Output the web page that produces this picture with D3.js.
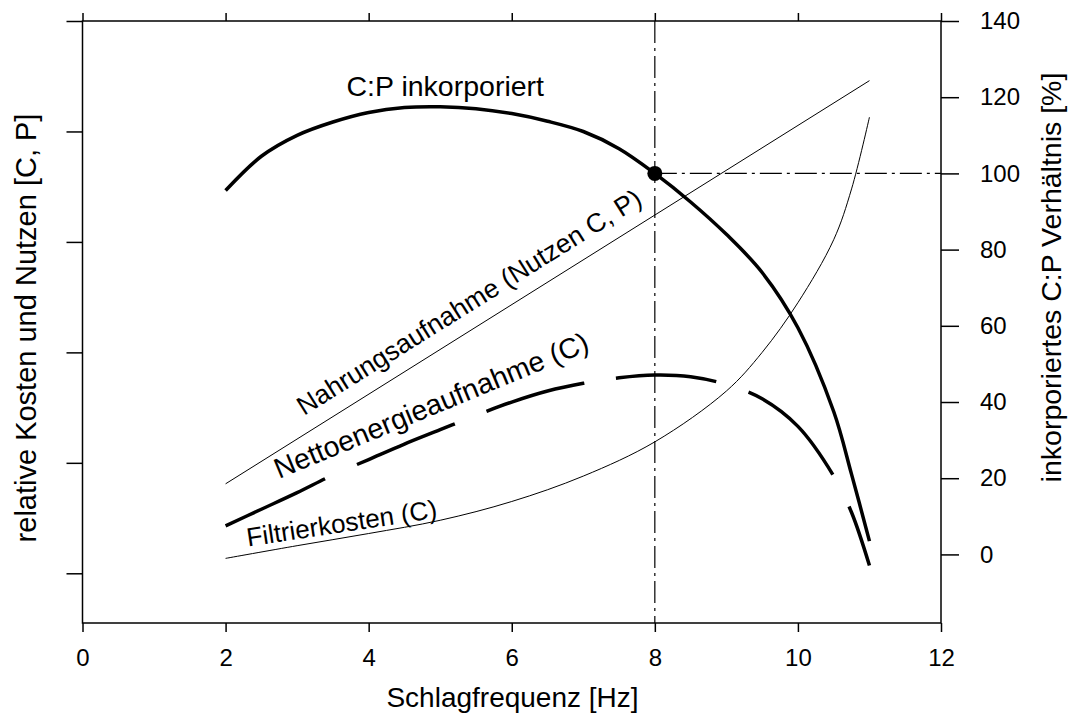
<!DOCTYPE html>
<html><head><meta charset="utf-8">
<script src="https://cdn.jsdelivr.net/npm/d3@7"></script>
<style>
body{margin:0;background:#fff;}
text{font-family:"Liberation Sans",Arial,Helvetica,sans-serif;fill:#000;}
</style></head>
<body><svg id="c" width="1068" height="724"></svg>
<script>
// ---- data ----
const xTicks = [0, 2, 4, 6, 8, 10, 12];
const rightTicks = [0, 20, 40, 60, 80, 100, 120, 140];
const leftTicks = [0, 1, 2, 3, 4, 5];

// C:P inkorporiert [%] (right axis)
const cpX = [2, 2.5, 3, 3.5, 4, 4.5, 5, 5.5, 6, 6.5, 7, 7.5, 8, 8.5, 9, 9.5, 10, 10.5, 10.75, 11];
const cpY = [95.5, 104.5, 110, 113.5, 116, 117.3, 117.5, 117, 115.7, 113.7, 111, 106.5, 100, 92.5, 84, 74, 59.5, 37.5, 21, 3.5];

// Nahrungsaufnahme (Nutzen C, P) (left axis, relative)
const foodX = [2, 11];
const foodY = [0.81, 4.46];

// Filtrierkosten (C)
const costX = [2, 3, 4, 5, 6, 7, 8, 9, 9.5, 10, 10.5, 10.75, 11];
const costY = [0.135, 0.25, 0.36, 0.48, 0.65, 0.88, 1.19, 1.65, 2.0, 2.45, 3.02, 3.48, 4.13];

// Nettoenergieaufnahme (C)
const netX = [2, 2.5, 3, 3.5, 4, 4.5, 5, 5.5, 6, 6.5, 7, 7.5, 8, 8.5, 9, 9.5, 10, 10.5, 10.75, 11];
const netY = [0.43, 0.58, 0.73, 0.89, 1.03, 1.17, 1.30, 1.43, 1.55, 1.65, 1.72, 1.77, 1.795, 1.78, 1.71, 1.58, 1.33, 0.88, 0.55, 0.07];

// optimum marker
const optX = 8, optY = 100;

// ---- layout ----
const svg = d3.select("#c");
const L = 82.5, R = 941, T = 21, B = 623;
const x = d3.scaleLinear().domain([0, 12]).range([L, R]);
const yL = d3.scaleLinear().domain([-0.45, 5]).range([B, T]);
const yR = d3.scaleLinear().domain([-18, 140]).range([B, T]);

// axes
const ax = svg.append("g");
const gb = ax.append("g").attr("transform", `translate(0,${B})`)
  .call(d3.axisBottom(x).tickValues(xTicks).tickSize(9).tickSizeOuter(0).tickPadding(17));
const gt = ax.append("g").attr("transform", `translate(0,${T})`)
  .call(d3.axisTop(x).tickValues(xTicks).tickSize(8).tickSizeOuter(0).tickFormat(""));
const gl = ax.append("g").attr("transform", `translate(${L},0)`)
  .call(d3.axisLeft(yL).tickValues(leftTicks).tickSize(16).tickSizeOuter(0).tickFormat(""));
const gr = ax.append("g").attr("transform", `translate(${R},0)`)
  .call(d3.axisRight(yR).tickValues(rightTicks).tickSize(18).tickSizeOuter(0).tickPadding(21));
[gb, gt, gl, gr].forEach(g => {
  g.selectAll(".domain").remove();
  g.selectAll("line").attr("stroke", "#000").attr("stroke-width", 1.5);
  g.selectAll("text").style("font-size", "24px").attr("fill", "#000");
});
gb.selectAll("text").attr("dy", "0.71em");
gr.selectAll("text").attr("text-anchor", "start");

svg.append("rect").attr("x", L).attr("y", T).attr("width", R - L).attr("height", B - T)
  .attr("fill", "none").attr("stroke", "#000").attr("stroke-width", 1.5);

// reference dash-dot lines
svg.append("line").attr("x1", x(optX)).attr("x2", x(optX)).attr("y1", T).attr("y2", B)
  .attr("stroke", "#000").attr("stroke-width", 1.2).attr("stroke-dasharray", "22,5,3,5");
svg.append("line").attr("x1", x(optX)).attr("x2", R).attr("y1", yR(optY)).attr("y2", yR(optY))
  .attr("stroke", "#000").attr("stroke-width", 1.2).attr("stroke-dasharray", "22,5,3,5");

// curves
const lineL = d3.line().x(d => x(d[0])).y(d => yL(d[1])).curve(d3.curveCatmullRom.alpha(0.5));
const lineR = d3.line().x(d => x(d[0])).y(d => yR(d[1])).curve(d3.curveCatmullRom.alpha(0.5));

svg.append("path").datum(foodX.map((v, i) => [v, foodY[i]])).attr("d", lineL)
  .attr("fill", "none").attr("stroke", "#000").attr("stroke-width", 1);
svg.append("path").datum(costX.map((v, i) => [v, costY[i]])).attr("d", lineL)
  .attr("fill", "none").attr("stroke", "#000").attr("stroke-width", 1);
svg.append("path").datum(netX.map((v, i) => [v, netY[i]])).attr("d", lineL)
  .attr("fill", "none").attr("stroke", "#000").attr("stroke-width", 3.5)
  .attr("stroke-dasharray", "110,35,106,34,102,32,101,34,120,36,200");
svg.append("path").datum(cpX.map((v, i) => [v, cpY[i]])).attr("d", lineR)
  .attr("fill", "none").attr("stroke", "#000").attr("stroke-width", 3.5);

svg.append("circle").attr("cx", x(optX)).attr("cy", yR(optY)).attr("r", 7.5).attr("fill", "#000");

// curve labels
function label(txt, px, py, ang, size) {
  svg.append("text").attr("transform", `translate(${px},${py}) rotate(${ang})`)
    .style("font-size", size + "px").text(txt);
}
label("C:P inkorporiert", 346.5, 96, 0, 28.5);
label("Nahrungsaufnahme (Nutzen C, P)", 304, 416, -32, 26.5);
label("Nettoenergieaufnahme (C)", 279, 479, -22.5, 28.5);
label("Filtrierkosten (C)", 248, 546.5, -8.6, 26);

// axis titles
svg.append("text").attr("x", 512.5).attr("y", 706.5).attr("text-anchor", "middle")
  .style("font-size", "28px").text("Schlagfrequenz [Hz]");
svg.append("text").attr("transform", "translate(36,328) rotate(-90)").attr("text-anchor", "middle")
  .style("font-size", "29px").text("relative Kosten und Nutzen [C, P]");
svg.append("text").attr("transform", "translate(1061,277.5) rotate(-90)").attr("text-anchor", "middle")
  .style("font-size", "28.5px").text("inkorporiertes C:P Verhältnis [%]");
</script></body></html>
